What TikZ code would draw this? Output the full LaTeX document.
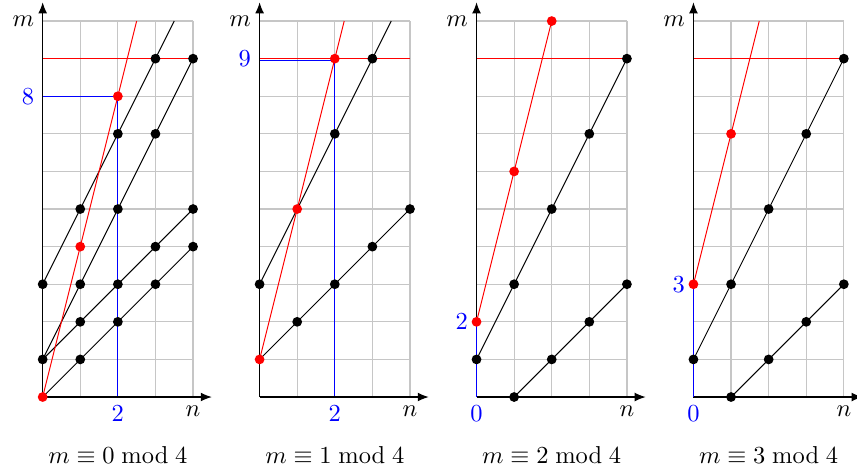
\documentclass[tikz,border=0pt]{standalone}
\usetikzlibrary{arrows.meta}
\tikzset{
  gridline/.style={gray!45, line width=0.5pt},
  axisline/.style={black, line width=0.5pt, -{Latex[length=4.5pt,width=3.6pt]}},
  blk/.style={black, line width=0.4pt},
  redl/.style={red, line width=0.4pt},
  redh/.style={red, line width=0.55pt},
  bluel/.style={blue, line width=0.5pt},
  bluelbl/.style={text=blue},
  captext/.style={anchor=base},
}
\newcommand\mypanelbase{%
  \foreach \i in {1,...,4} \draw[gridline] (\i,0) -- (\i,10);
  \foreach \j in {1,...,10} \draw[gridline] (0,\j) -- (4,\j);
  \draw[redh] (0,9) -- (4,9);
}
\newcommand\mypanelaxes{%
  \draw[axisline] (0,0) -- (0,10.5);
  \draw[axisline] (0,0) -- (4.5,0);
  \node[left] (mlab) at (0,10) {$m$};
  \node[below] (nlab) at (4,0) {$n$};
}
\begin{document}
\begin{tikzpicture}[x=0.54cm,y=0.54cm]
\useasboundingbox (-1.135,-2.074) rectangle (21.66,10.56);
% ---------- panel 0 ----------
\begin{scope}
  \mypanelbase
  \draw[blk] (0,0) -- (4,4);
  \draw[blk] (0,1) -- (4,5);
  \draw[blk] (0,1) -- (4,9);
  \draw[blk] (0,3) -- (3.5,10);
  \draw[redl] (0,0) -- (2.5,10);
  \draw[bluel] (0,8) -- (2,8) -- (2,0);
  \mypanelaxes
  \node[left,bluelbl] (a8) at (0,8) {$8$};
  \node[below,bluelbl] (a2) at (2,0) {$2$};
  \foreach \p in {(0,1),(0,3),(1,1),(1,2),(1,3),(1,5),(2,2),(2,3),(2,5),(2,7),(3,3),(3,4),(3,7),(3,9),(4,4),(4,5),(4,9)}
    \fill[black] \p circle (2pt);
  \foreach \p in {(0,0),(1,4),(2,8)}
    \fill[red] \p circle (2pt);
  \node[captext] (c0) at (2,-1.755) {$m\equiv 0 \bmod 4$};
\end{scope}
% ---------- panel 1 ----------
\begin{scope}[xshift=5.77*0.54cm]
  \mypanelbase
  \draw[blk] (0,1) -- (4,5);
  \draw[blk] (0,3) -- (3.5,10);
  \draw[redl] (0,1) -- (2.25,10);
  \draw[bluel] (2,9) -- (2,0);
  \draw[bluel, yshift=-0.8pt] (0,9) -- (2,9);
  \draw[redh] (0,9) -- (4,9);
  \mypanelaxes
  \node[left,bluelbl] (b9) at (0,9) {$9$};
  \node[below,bluelbl] (b2) at (2,0) {$2$};
  \foreach \p in {(0,3),(1,2),(2,3),(3,4),(4,5),(2,7),(3,9)}
    \fill[black] \p circle (2pt);
  \foreach \p in {(0,1),(1,5),(2,9)}
    \fill[red] \p circle (2pt);
  \node[captext] (c1) at (2,-1.755) {$m\equiv 1 \bmod 4$};
\end{scope}
% ---------- panel 2 ----------
\begin{scope}[xshift=2*5.77*0.54cm]
  \mypanelbase
  \draw[blk] (0,1) -- (4,9);
  \draw[blk] (1,0) -- (4,3);
  \draw[redl] (0,2) -- (2,10);
  \mypanelaxes
  \draw[bluel] (0,0) -- (0,2);
  \node[left,bluelbl] (d2) at (0,2) {$2$};
  \node[below,bluelbl] (d0) at (0,0) {$0$};
  \foreach \p in {(0,1),(1,3),(2,5),(3,7),(4,9),(1,0),(2,1),(3,2),(4,3)}
    \fill[black] \p circle (2pt);
  \foreach \p in {(0,2),(1,6),(2,10)}
    \fill[red] \p circle (2pt);
  \node[captext] (c2) at (2,-1.755) {$m\equiv 2 \bmod 4$};
\end{scope}
% ---------- panel 3 ----------
\begin{scope}[xshift=3*5.77*0.54cm]
  \mypanelbase
  \draw[blk] (0,1) -- (4,9);
  \draw[blk] (1,0) -- (4,3);
  \draw[redl] (0,3) -- (1.75,10);
  \mypanelaxes
  \draw[bluel] (0,0) -- (0,3);
  \node[left,bluelbl] (e3) at (0,3) {$3$};
  \node[below,bluelbl] (e0) at (0,0) {$0$};
  \foreach \p in {(0,1),(1,3),(2,5),(3,7),(4,9),(1,0),(2,1),(3,2),(4,3)}
    \fill[black] \p circle (2pt);
  \foreach \p in {(0,3),(1,7)}
    \fill[red] \p circle (2pt);
  \node[captext] (c3) at (2,-1.755) {$m\equiv 3 \bmod 4$};
\end{scope}
\end{tikzpicture}
\end{document}
